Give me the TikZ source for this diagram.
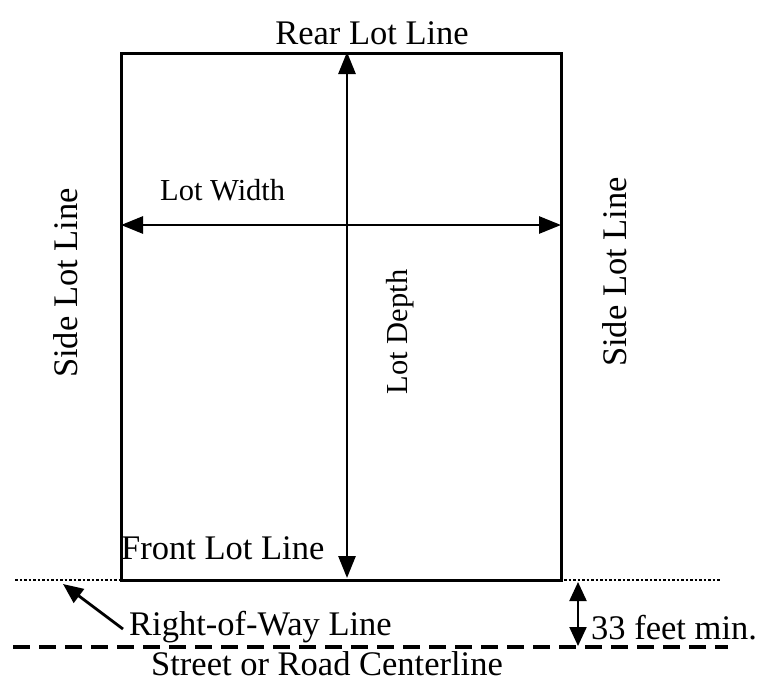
\documentclass[tikz,border=0pt]{standalone}
\usepackage{fontspec}
\setmainfont{Liberation Serif}
\usetikzlibrary{arrows.meta}
\begin{document}
\begin{tikzpicture}[x=1pt,y=-1pt,
  lbl/.style={inner sep=0pt,font=\fontsize{34.5}{38}\selectfont},
  slbl/.style={inner sep=0pt,font=\fontsize{30.5}{33}\selectfont},
  dim/.style={line width=2.8pt,{Triangle[length=22pt,width=17pt]}-{Triangle[length=22pt,width=17pt]}},
  ptr/.style={line width=2.8pt,-{Triangle[length=20pt,width=17pt]}}]
\useasboundingbox (0,0) rectangle (770,696);
% lot
\coordinate (tl) at (121,53);
\coordinate (br) at (561,580);
\draw[line width=3pt] (tl) rectangle (br);
% dimension arrows
\coordinate (dtop) at (347,52);
\coordinate (dbot) at (347,578);
\draw[dim] (dtop) -- (dbot);
\coordinate (wl) at (121,225);
\coordinate (wr) at (561,225);
\draw[dim] (wl) -- (wr);
% right-of-way and centerline
\coordinate (rowL) at (15,580);
\coordinate (rowR) at (720,580);
\draw[line width=1.6pt,dash pattern=on 2.5pt off 2pt] (rowL) -- (rowR);
\coordinate (clL) at (13,647);
\coordinate (clR) at (728,647);
\draw[line width=3.4pt,dash pattern=on 17pt off 9pt] (clL) -- (clR);
% setback arrow
\coordinate (sbt) at (578,582);
\coordinate (sbb) at (578,646);
\draw[line width=2.2pt,{Triangle[length=19pt,width=17pt]}-{Triangle[length=19pt,width=17pt]}] (sbt) -- (sbb);
% labels
\node[lbl] (rear) at (372,33) {Rear Lot Line};
\node[slbl,anchor=west] (width) at (160,190) {Lot Width};
\node[slbl,rotate=90] (depth) at (400,332) {Lot Depth};
\node[lbl,rotate=90] (sideL) at (66,283) {Side Lot Line};
\node[lbl,rotate=90] (sideR) at (615,272) {Side Lot Line};
\node[lbl,anchor=west] (front) at (121,548) {Front Lot Line};
\node[lbl,anchor=west] (row) at (129,627) {Right-of-Way Line};
\node[lbl,anchor=west] (feet) at (591,628) {33 feet min.};
\node[lbl] (cl) at (327,664) {Street or Road Centerline};
\coordinate (rowtip) at (63,584);
\draw[ptr] (row.west) ++(-6,2) -- (rowtip);
\end{tikzpicture}
\end{document}
